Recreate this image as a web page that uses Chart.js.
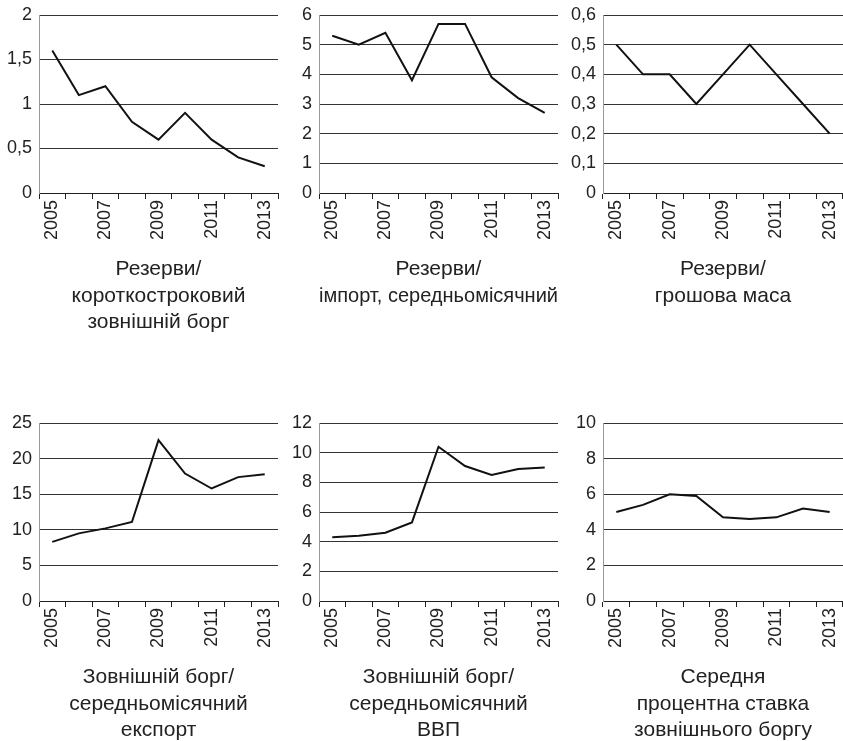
<!DOCTYPE html>
<html lang="uk">
<head>
<meta charset="utf-8">
<title>Індикатори достатності резервів</title>
<script src="https://cdn.jsdelivr.net/npm/chart.js@4.4.1/dist/chart.umd.min.js"></script>
<style>
  html, body {
    margin: 0;
    padding: 0;
    background: #fff;
  }
  body {
    position: relative;
    width: 843px;
    height: 741px;
    overflow: hidden;
  }
  canvas {
    position: absolute;
  }
</style>
</head>
<body>
<canvas id="graficoReservasDivida" width="280" height="340" style="left:0px;top:0px"></canvas>
<canvas id="graficoReservasImport" width="280" height="340" style="left:280px;top:0px"></canvas>
<canvas id="graficoReservasMoeda" width="283" height="340" style="left:560px;top:0px"></canvas>
<canvas id="graficoDividaExport" width="280" height="340" style="left:0px;top:408px"></canvas>
<canvas id="graficoDividaPib" width="280" height="340" style="left:280px;top:408px"></canvas>
<canvas id="graficoTaxaJuros" width="283" height="340" style="left:560px;top:408px"></canvas>

<script>
// anos e rótulos do eixo x (só os anos ímpares aparecem)
const anos = ['2005', '2006', '2007', '2008', '2009', '2010', '2011', '2012', '2013'];
const rotulosAnos = ['2005', '', '2007', '', '2009', '', '2011', '', '2013'];

// valores
const reservasDividaCurta = [1.6, 1.1, 1.2, 0.8, 0.6, 0.9, 0.6, 0.4, 0.3];
const reservasImportMensal = [5.3, 5.0, 5.4, 3.8, 5.7, 5.7, 3.9, 3.2, 2.7];
const reservasMassaMonetaria = [0.5, 0.4, 0.4, 0.3, 0.4, 0.5, 0.4, 0.3, 0.2];
const dividaExportMensal = [8.3, 9.5, 10.2, 11.1, 22.6, 17.9, 15.8, 17.4, 17.8];
const dividaPibMensal = [4.3, 4.4, 4.6, 5.3, 10.4, 9.1, 8.5, 8.9, 9.0];
const taxaJurosDivida = [5.0, 5.4, 6.0, 5.9, 4.7, 4.6, 4.7, 5.2, 5.0];

// títulos (linha vazia no fim para alinhar os de duas linhas)
const tituloReservasDivida = ['Резерви/', 'короткостроковий', 'зовнішній борг'];
const tituloReservasImport = ['Резерви/', 'імпорт, середньомісячний', ''];
const tituloReservasMoeda = ['Резерви/', 'грошова маса', ''];
const tituloDividaExport = ['Зовнішній борг/', 'середньомісячний', 'експорт'];
const tituloDividaPib = ['Зовнішній борг/', 'середньомісячний', 'ВВП'];
const tituloTaxaJuros = ['Середня', 'процентна ставка', 'зовнішнього боргу'];

const fonte = 'Liberation Sans, Arial, sans-serif';

function formatarNumero(valor) {
  return parseFloat(valor.toFixed(2)).toString().replace('.', ',');
}

function criarGrafico(idCanvas, valores, maximo, passo, titulo, larguraEixoY, folgaDireita) {
  const canvas = document.getElementById(idCanvas);

  return new Chart(canvas, {
    type: 'line',
    data: {
      labels: anos,
      datasets: [{
        data: valores,
        borderColor: '#111',
        borderWidth: 2,
        pointRadius: 0,
        tension: 0,
        fill: false
      }]
    },
    options: {
      responsive: false,
      animation: false,
      layout: {
        padding: { top: 15, left: 0, right: folgaDireita, bottom: 0 }
      },
      plugins: {
        legend: { display: false },
        tooltip: { enabled: false }
      },
      scales: {
        x: {
          offset: true,
          grid: {
            offset: true,
            drawOnChartArea: false,
            drawTicks: true,
            tickLength: 6,
            color: '#222'
          },
          border: { color: '#222', width: 1 },
          ticks: {
            autoSkip: false,
            maxRotation: 90,
            minRotation: 90,
            padding: 1,
            color: '#222',
            font: { family: fonte, size: 18 },
            callback: function (valor, indice) {
              return rotulosAnos[indice];
            }
          },
          title: {
            display: true,
            text: titulo,
            color: '#222',
            padding: { top: 0, bottom: 4 },
            font: { family: fonte, size: 21, lineHeight: 1.27 }
          },
          afterFit: function (escala) {
            escala.height = 147;
            escala.paddingLeft = 0;
            escala.paddingRight = 0;
          }
        },
        y: {
          min: 0,
          max: maximo,
          grid: {
            color: '#333',
            lineWidth: 1,
            drawTicks: false
          },
          border: { color: '#999', width: 1 },
          ticks: {
            stepSize: passo,
            padding: 7,
            color: '#222',
            font: { family: fonte, size: 18 },
            callback: function (valor) {
              return formatarNumero(valor);
            }
          },
          afterFit: function (escala) {
            escala.width = larguraEixoY;
            escala.paddingTop = 0;
            escala.paddingBottom = 0;
          }
        }
      }
    }
  });
}

criarGrafico('graficoReservasDivida', reservasDividaCurta, 2, 0.5, tituloReservasDivida, 39, 2);
criarGrafico('graficoReservasImport', reservasImportMensal, 6, 1, tituloReservasImport, 39, 2);
criarGrafico('graficoReservasMoeda', reservasMassaMonetaria, 0.6, 0.1, tituloReservasMoeda, 43, 0);
criarGrafico('graficoDividaExport', dividaExportMensal, 25, 5, tituloDividaExport, 39, 2);
criarGrafico('graficoDividaPib', dividaPibMensal, 12, 2, tituloDividaPib, 39, 2);
criarGrafico('graficoTaxaJuros', taxaJurosDivida, 10, 2, tituloTaxaJuros, 43, 0);
</script>
</body>
</html>
